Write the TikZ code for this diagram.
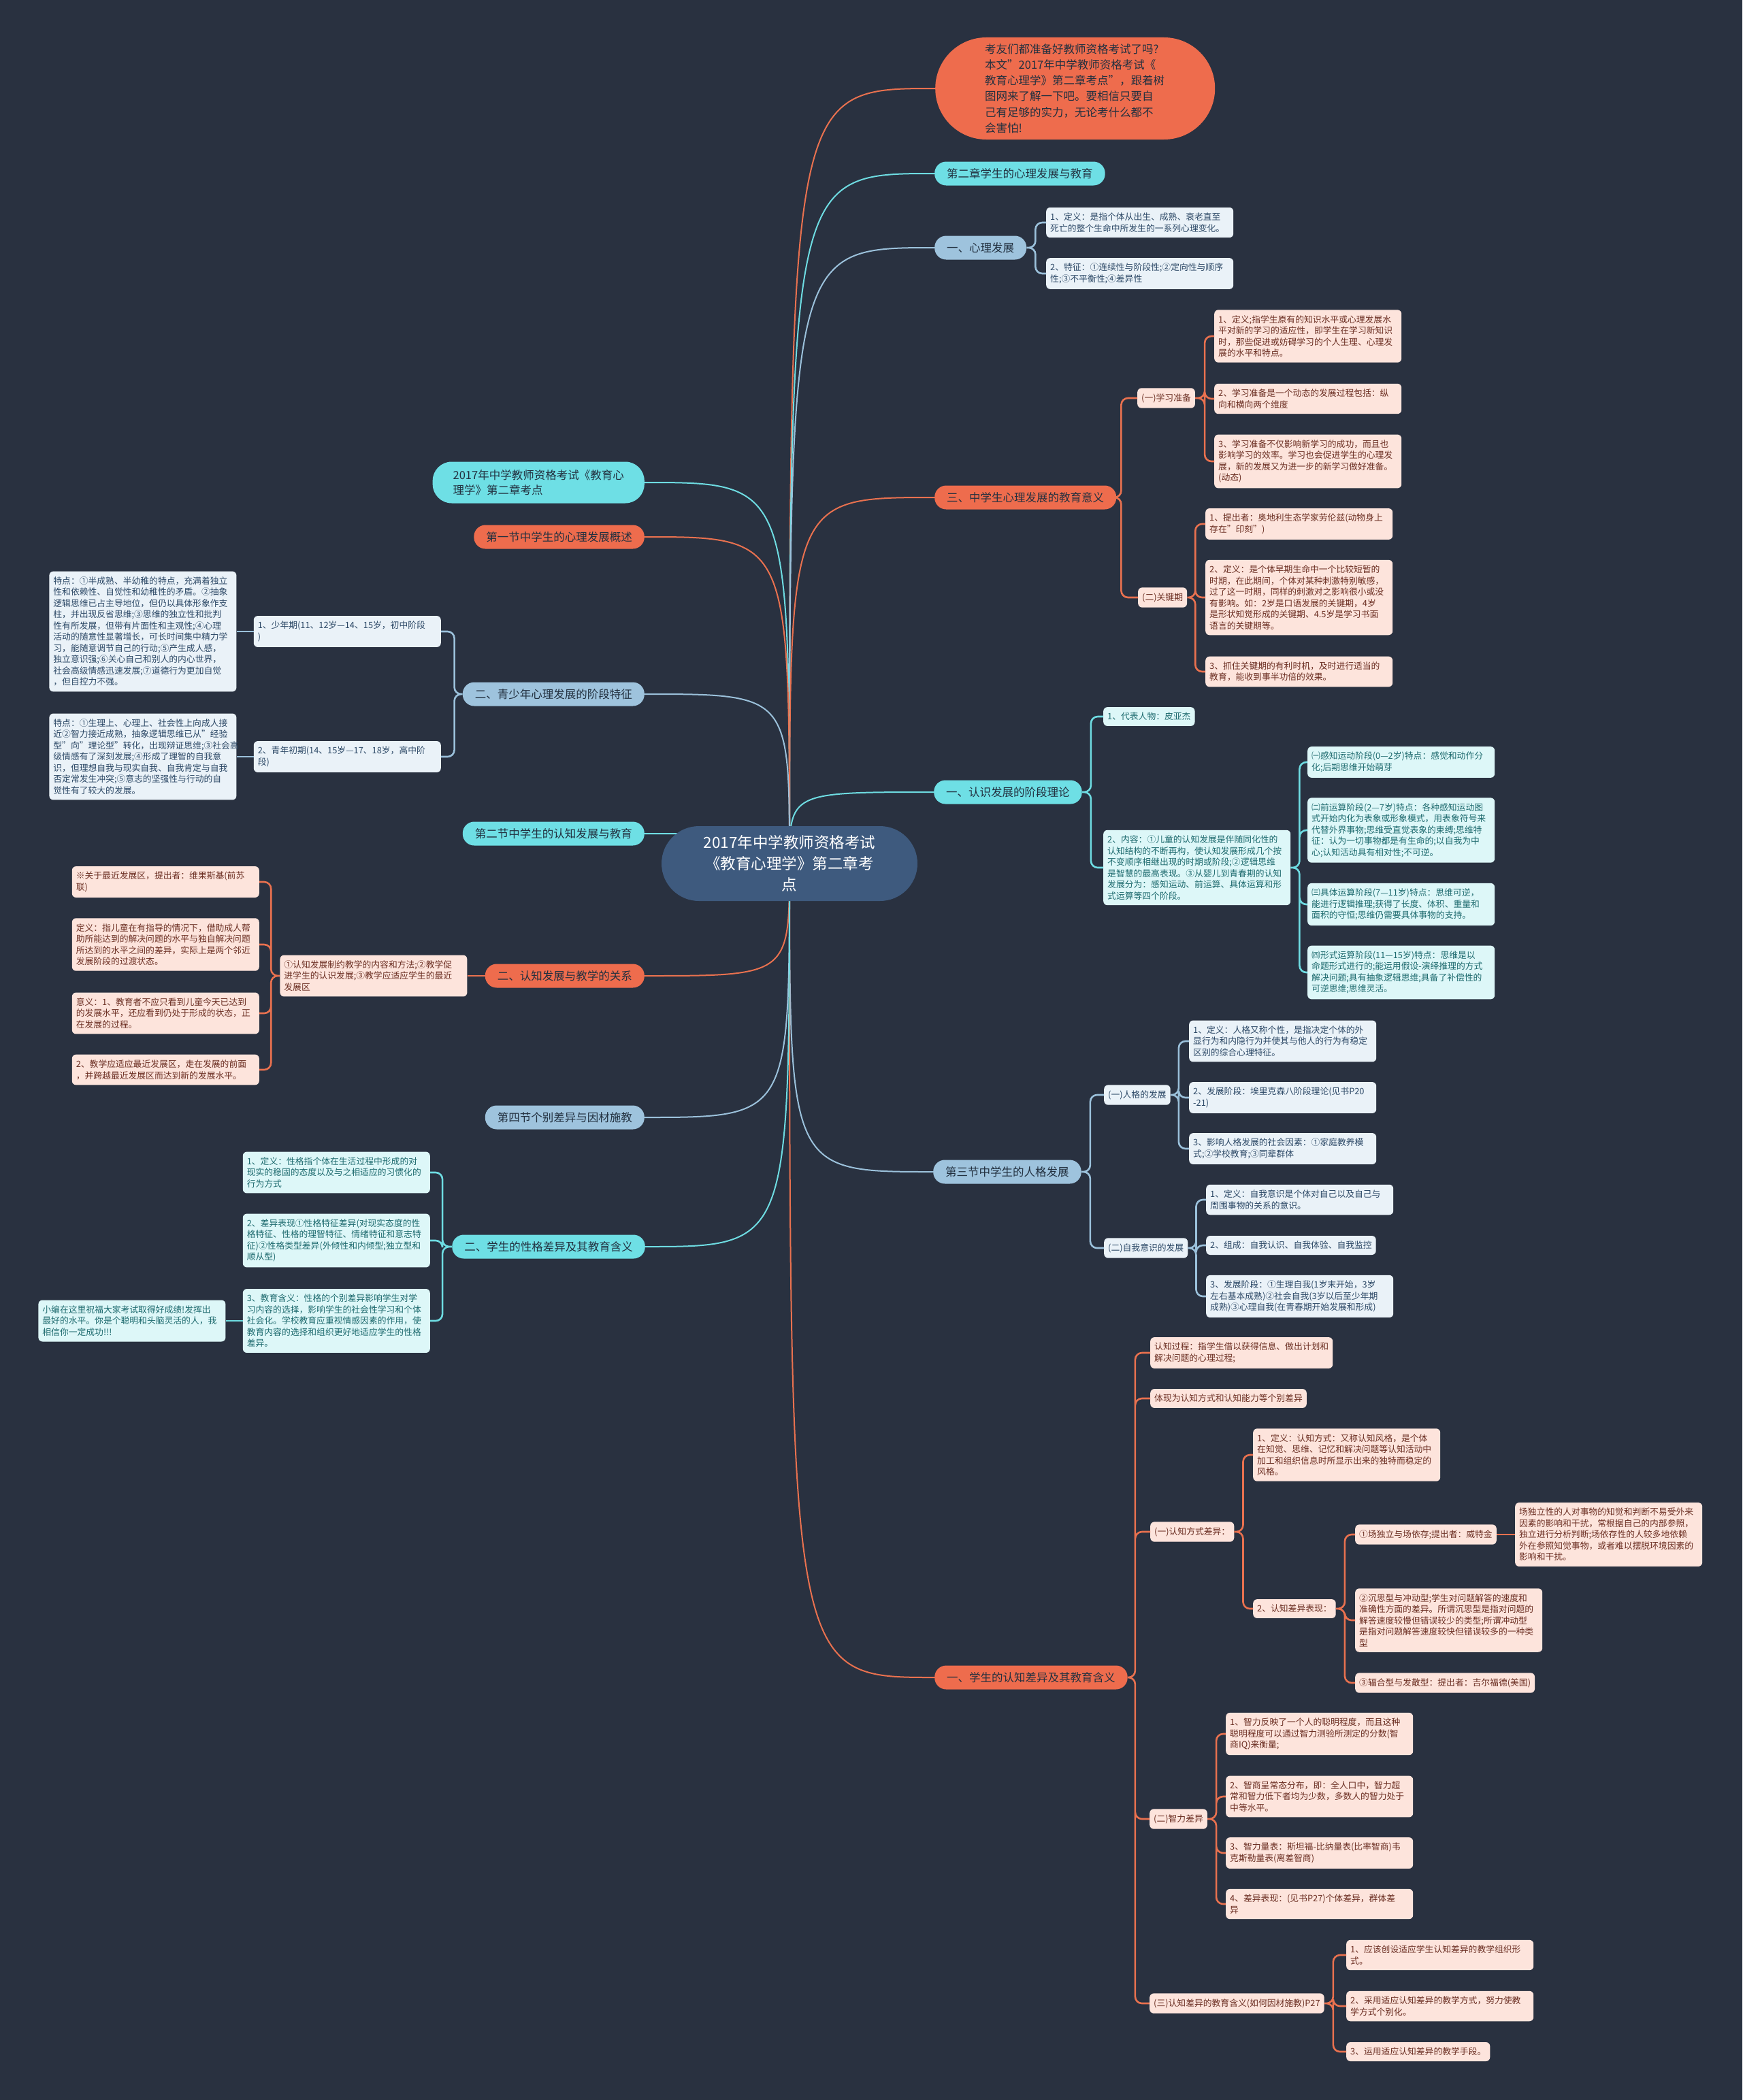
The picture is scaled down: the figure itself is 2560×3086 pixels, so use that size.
\documentclass[tikz,border=0pt]{standalone}
\usepackage{fontspec}
\setmainfont{Noto Sans CJK SC}
\usepackage{xcolor}
\usepackage{tikz}
\usetikzlibrary{positioning}

\definecolor{bgcol}{HTML}{293140}
\definecolor{ctrfill}{HTML}{3E5A7E}
\definecolor{orfill}{HTML}{EE6C4D}
\definecolor{cyfill}{HTML}{6EDFE5}
\definecolor{gyfill}{HTML}{9EC3DD}
\definecolor{orline}{HTML}{E9714F}
\definecolor{cyline}{HTML}{6EDCE2}
\definecolor{gyline}{HTML}{9BC1DB}
\definecolor{pkfill}{HTML}{FDE4DC}
\definecolor{pktext}{HTML}{6B2E22}
\definecolor{wtfill}{HTML}{EAF2F8}
\definecolor{wttext}{HTML}{2C4866}
\definecolor{cyleaf}{HTML}{DDF7F8}
\definecolor{cytext}{HTML}{1D6A6E}
\definecolor{brtext}{HTML}{22303F}

\pgfdeclarelayer{background}
\pgfsetlayers{background,main}

\begin{document}
\begin{tikzpicture}[
    x=1pt, y=-1pt,
    lf/.style={rounded corners=6pt, inner xsep=6pt, inner ysep=8pt, align=left, font=\fontsize{12.8}{16.5}\selectfont},
    tw/.style={text width=263pt},
    pk/.style={lf, fill=pkfill, text=pktext},
    wt/.style={lf, fill=wtfill, text=wttext},
    cy/.style={lf, fill=cyleaf, text=cytext},
    br/.style={rounded corners=17pt, minimum height=35pt, inner xsep=18pt, text=brtext, font=\fontsize{16.5}{22}\selectfont},
    bor/.style={br, fill=orfill},
    bcy/.style={br, fill=cyfill},
    bgy/.style={br, fill=gyfill},
    sub/.style={line width=2.6pt, rounded corners=10pt},
    lor/.style={sub, draw=orline},
    lcy/.style={sub, draw=cyline},
    lgy/.style={sub, draw=gyline},
    mor/.style={line width=2pt, draw=orline},
    mcy/.style={line width=2pt, draw=cyline},
    mgy/.style={line width=2pt, draw=gyline},
    elbow/.style={to path={-- ++(#1,0) |- (\tikztotarget)}}
  ]
  \useasboundingbox (0,0) rectangle (2560,3086);

  % centre
  \node[fill=ctrfill, text=white, rounded corners=55pt, minimum width=376pt, minimum height=110pt,
    align=center, font=\fontsize{22.5}{31}\selectfont] (ctr) at (1160,1269)
    {2017年中学教师资格考试\\《教育心理学》第二章考\\点};

  % right side
  \node[fill=orfill, text=brtext, rounded corners=75pt, minimum width=411pt, minimum height=150pt,
    text width=265pt, align=left, font=\fontsize{16.5}{23.3}\selectfont, anchor=west] (intro) at (1374,130)
    {考友们都准备好教师资格考试了吗?\\本文"2017年中学教师资格考试《\\教育心理学》第二章考点"，跟着树\\图网来了解一下吧。要相信只要自\\己有足够的实力，无论考什么都不\\会害怕!};
  \node[bcy, anchor=west] (ch2) at (1373,255) {第二章学生的心理发展与教育};

  \node[bgy, anchor=west] (psy) at (1373,364) {一、心理发展};
  \node[wt, tw, anchor=west] (psy1) at (1537,327) {1、定义：是指个体从出生、成熟、衰老直至\\死亡的整个生命中所发生的一系列心理变化。};
  \node[wt, tw, anchor=west] (psy2) at (1537,402) {2、特征：①连续性与阶段性;②定向性与顺序\\性;③不平衡性;④差异性};

  \node[bor, anchor=west] (edu) at (1373,731) {三、中学生心理发展的教育意义};
  \node[pk, anchor=west] (prep) at (1671,585) {(一)学习准备};
  \node[pk, tw, anchor=west] (prep1) at (1784,494) {1、定义;指学生原有的知识水平或心理发展水\\平对新的学习的适应性，即学生在学习新知识\\时，那些促进或妨碍学习的个人生理、心理发\\展的水平和特点。};
  \node[pk, tw, anchor=west] (prep2) at (1784,586) {2、学习准备是一个动态的发展过程包括：纵\\向和横向两个维度};
  \node[pk, tw, anchor=west] (prep3) at (1784,678) {3、学习准备不仅影响新学习的成功，而且也\\影响学习的效率。学习也会促进学生的心理发\\展，新的发展又为进一步的新学习做好准备。\\(动态)};
  \node[pk, anchor=west] (crit) at (1672,878) {(二)关键期};
  \node[pk, tw, anchor=west] (crit1) at (1771,770) {1、提出者：奥地利生态学家劳伦兹(动物身上\\存在"印刻")};
  \node[pk, tw, anchor=west] (crit2) at (1771,878) {2、定义：是个体早期生命中一个比较短暂的\\时期，在此期间，个体对某种刺激特别敏感，\\过了这一时期，同样的刺激对之影响很小或没\\有影响。如：2岁是口语发展的关键期，4岁\\是形状知觉形成的关键期、4.5岁是学习书面\\语言的关键期等。};
  \node[pk, tw, anchor=west] (crit3) at (1771,987) {3、抓住关键期的有利时机，及时进行适当的\\教育，能收到事半功倍的效果。};

  \node[bcy, anchor=west] (cogth) at (1372,1164) {一、认识发展的阶段理论};
  \node[cy, anchor=west] (pia1) at (1621,1053) {1、代表人物：皮亚杰};
  \node[cy, tw, anchor=west] (pia2) at (1621,1275) {2、内容：①儿童的认知发展是伴随同化性的\\认知结构的不断再构，使认知发展形成几个按\\不变顺序相继出现的时期或阶段;②逻辑思维\\是智慧的最高表现。③从婴儿到青春期的认知\\发展分为：感知运动、前运算、具体运算和形\\式运算等四个阶段。};
  \node[cy, tw, anchor=west] (stg1) at (1921,1120) {㈠感知运动阶段(0—2岁)特点：感觉和动作分\\化;后期思维开始萌芽};
  \node[cy, tw, anchor=west] (stg2) at (1921,1220) {㈡前运算阶段(2—7岁)特点：各种感知运动图\\式开始内化为表象或形象模式，用表象符号来\\代替外界事物;思维受直觉表象的束缚;思维特\\征：认为一切事物都是有生命的;以自我为中\\心;认知活动具有相对性;不可逆。};
  \node[cy, tw, anchor=west] (stg3) at (1921,1329) {㈢具体运算阶段(7—11岁)特点：思维可逆，\\能进行逻辑推理;获得了长度、体积、重量和\\面积的守恒;思维仍需要具体事物的支持。};
  \node[cy, tw, anchor=west] (stg4) at (1921,1429) {㈣形式运算阶段(11—15岁)特点：思维是以\\命题形式进行的;能运用假设-演绎推理的方式\\解决问题;具有抽象逻辑思维;具备了补偿性的\\可逆思维;思维灵活。};

  \node[bgy, anchor=west] (pers) at (1371,1722) {第三节中学生的人格发展};
  \node[wt, anchor=west] (pdev) at (1622,1609) {(一)人格的发展};
  \node[wt, tw, anchor=west] (pdev1) at (1747,1530) {1、定义：人格又称个性，是指决定个体的外\\显行为和内隐行为并使其与他人的行为有稳定\\区别的综合心理特征。};
  \node[wt, tw, anchor=west] (pdev2) at (1747,1613) {2、发展阶段：埃里克森八阶段理论(见书P20\\-21)};
  \node[wt, tw, anchor=west] (pdev3) at (1747,1688) {3、影响人格发展的社会因素：①家庭教养模\\式;②学校教育;③同辈群体};
  \node[wt, anchor=west] (sdev) at (1622,1834) {(二)自我意识的发展};
  \node[wt, tw, anchor=west] (sdev1) at (1772,1763) {1、定义：自我意识是个体对自己以及自己与\\周围事物的关系的意识。};
  \node[wt, anchor=west] (sdev2) at (1772,1830) {2、组成：自我认识、自我体验、自我监控};
  \node[wt, tw, anchor=west] (sdev3) at (1772,1905) {3、发展阶段：①生理自我(1岁末开始，3岁\\左右基本成熟)②社会自我(3岁以后至少年期\\成熟)③心理自我(在青春期开始发展和形成)};

  \node[bor, anchor=west] (diff) at (1373,2465) {一、学生的认知差异及其教育含义};
  \node[pk, anchor=west] (cproc) at (1690,1988) {认知过程：指学生借以获得信息、做出计划和\\解决问题的心理过程;};
  \node[pk, anchor=west] (cshow) at (1690,2055) {体现为认知方式和认知能力等个别差异};
  \node[pk, anchor=west] (cstyle) at (1690,2251) {(一)认知方式差异：};
  \node[pk, tw, anchor=west] (cs1) at (1841,2138) {1、定义：认知方式：又称认知风格，是个体\\在知觉、思维、记忆和解决问题等认知活动中\\加工和组织信息时所显示出来的独特而稳定的\\风格。};
  \node[pk, anchor=west] (cs2) at (1841,2364) {2、认知差异表现：};
  \node[pk, anchor=west] (fi) at (1991,2255) {①场独立与场依存;提出者：威特金};
  \node[pk, tw, right=27pt of fi] (finote) {场独立性的人对事物的知觉和判断不易受外来\\因素的影响和干扰，常根据自己的内部参照，\\独立进行分析判断;场依存性的人较多地依赖\\外在参照知觉事物，或者难以摆脱环境因素的\\影响和干扰。};
  \node[pk, tw, anchor=west] (rf) at (1991,2381) {②沉思型与冲动型;学生对问题解答的速度和\\准确性方面的差异。所谓沉思型是指对问题的\\解答速度较慢但错误较少的类型;所谓冲动型\\是指对问题解答速度较快但错误较多的一种类\\型};
  \node[pk, anchor=west] (cd) at (1991,2473) {③辐合型与发散型：提出者：吉尔福德(美国)};
  \node[pk, anchor=west] (iq) at (1689,2673) {(二)智力差异};
  \node[pk, tw, anchor=west] (iq1) at (1801,2548) {1、智力反映了一个人的聪明程度，而且这种\\聪明程度可以通过智力测验所测定的分数(智\\商IQ)来衡量;};
  \node[pk, tw, anchor=west] (iq2) at (1801,2640) {2、智商呈常态分布，即：全人口中，智力超\\常和智力低下者均为少数，多数人的智力处于\\中等水平。};
  \node[pk, tw, anchor=west] (iq3) at (1801,2723) {3、智力量表：斯坦福-比纳量表(比率智商)韦\\克斯勒量表(离差智商)};
  \node[pk, tw, anchor=west] (iq4) at (1801,2798) {4、差异表现：(见书P27)个体差异，群体差\\异};
  \node[pk, anchor=west] (teach) at (1689,2944) {(三)认知差异的教育含义(如何因材施教)P27};
  \node[pk, tw, anchor=west] (teach1) at (1978,2873) {1、应该创设适应学生认知差异的教学组织形\\式。};
  \node[pk, tw, anchor=west] (teach2) at (1978,2948) {2、采用适应认知差异的教学方式，努力使教\\学方式个别化。};
  \node[pk, anchor=west] (teach3) at (1978,3015) {3、运用适应认知差异的教学手段。};

  % left side
  \node[bcy, rounded corners=28pt, minimum height=61pt, inner xsep=30pt, align=left, anchor=east] (title) at (947,709) {2017年中学教师资格考试《教育心\\理学》第二章考点};
  \node[bor, anchor=east] (sec1) at (947,789) {第一节中学生的心理发展概述};
  \node[bgy, anchor=east] (youth) at (947,1020) {二、青少年心理发展的阶段特征};
  \node[wt, tw, anchor=east] (early) at (648,928) {1、少年期(11、12岁—14、15岁，初中阶段\\)};
  \node[wt, tw, left=25pt of early] (earlynote) {特点：①半成熟、半幼稚的特点，充满着独立\\性和依赖性、自觉性和幼稚性的矛盾。②抽象\\逻辑思维已占主导地位，但仍以具体形象作支\\柱，并出现反省思维;③思维的独立性和批判\\性有所发展，但带有片面性和主观性;④心理\\活动的随意性显著增长，可长时间集中精力学\\习，能随意调节自己的行动;⑤产生成人感，\\独立意识强;⑥关心自己和别人的内心世界，\\社会高级情感迅速发展;⑦道德行为更加自觉\\，但自控力不强。};
  \node[wt, tw, anchor=east] (late) at (648,1112) {2、青年初期(14、15岁—17、18岁，高中阶\\段)};
  \node[wt, tw, left=25pt of late] (latenote) {特点：①生理上、心理上、社会性上向成人接\\近②智力接近成熟，抽象逻辑思维已从"经验\\型"向"理论型"转化，出现辩证思维;③社会高\\级情感有了深刻发展;④形成了理智的自我意\\识，但理想自我与现实自我、自我肯定与自我\\否定常发生冲突;⑤意志的坚强性与行动的自\\觉性有了较大的发展。};

  \node[bcy, anchor=east] (sec2) at (947,1225) {第二节中学生的认知发展与教育};
  \node[bor, anchor=east] (rel) at (947,1434) {二、认知发展与教学的关系};
  \node[pk, tw, left=26pt of rel] (relmain) {①认知发展制约教学的内容和方法;②教学促\\进学生的认识发展;③教学应适应学生的最近\\发展区};
  \node[pk, tw, anchor=east] (zpd1) at (381,1296) {※关于最近发展区，提出者：维果斯基(前苏\\联)};
  \node[pk, tw, anchor=east] (zpd2) at (381,1388) {定义：指儿童在有指导的情况下，借助成人帮\\助所能达到的解决问题的水平与独自解决问题\\所达到的水平之间的差异，实际上是两个邻近\\发展阶段的过渡状态。};
  \node[pk, tw, anchor=east] (zpd3) at (381,1489) {意义：1、教育者不应只看到儿童今天已达到\\的发展水平，还应看到仍处于形成的状态，正\\在发展的过程。};
  \node[pk, tw, anchor=east] (zpd4) at (381,1572) {2、教学应适应最近发展区，走在发展的前面\\，并跨越最近发展区而达到新的发展水平。};

  \node[bgy, anchor=east] (sec4) at (947,1642) {第四节个别差异与因材施教};
  \node[bcy, anchor=east] (chr) at (948,1832) {二、学生的性格差异及其教育含义};
  \node[cy, tw, anchor=east] (chr1) at (632,1723) {1、定义：性格指个体在生活过程中形成的对\\现实的稳固的态度以及与之相适应的习惯化的\\行为方式};
  \node[cy, tw, anchor=east] (chr2) at (632,1823) {2、差异表现①性格特征差异(对现实态度的性\\格特征、性格的理智特征、情绪特征和意志特\\征)②性格类型差异(外倾性和内倾型;独立型和\\顺从型)};
  \node[cy, tw, anchor=east] (chr3) at (632,1941) {3、教育含义：性格的个别差异影响学生对学\\习内容的选择，影响学生的社会性学习和个体\\社会化。学校教育应重视情感因素的作用，使\\教育内容的选择和组织更好地适应学生的性格\\差异。};
  \node[cy, tw, left=25pt of chr3] (wish) {小编在这里祝福大家考试取得好成绩!发挥出\\最好的水平。你是个聪明和头脑灵活的人，我\\相信你一定成功!!!};

  % branch brackets
  \draw[lgy] (psy.east) to[elbow=13] (psy1.west) (psy.east) to[elbow=13] (psy2.west);
  \draw[lor] (edu.east) to[elbow=7] (prep.west) (edu.east) to[elbow=7] (crit.west);
  \draw[lor] (prep.east) to[elbow=14] (prep1.west) (prep.east) to[elbow=14] (prep2.west) (prep.east) to[elbow=14] (prep3.west);
  \draw[lor] (crit.east) to[elbow=12] (crit1.west) (crit.east) to[elbow=12] (crit2.west) (crit.east) to[elbow=12] (crit3.west);
  \draw[lcy] (cogth.east) to[elbow=13] (pia1.west) (cogth.east) to[elbow=13] (pia2.west);
  \draw[lcy] (pia2.east) to[elbow=13] (stg1.west) (pia2.east) to[elbow=13] (stg2.west) (pia2.east) to[elbow=13] (stg3.west) (pia2.east) to[elbow=13] (stg4.west);
  \draw[lgy] (pers.east) to[elbow=13] (pdev.west) (pers.east) to[elbow=13] (sdev.west);
  \draw[lgy] (pdev.east) to[elbow=12] (pdev1.west) (pdev.east) to[elbow=12] (pdev2.west) (pdev.east) to[elbow=12] (pdev3.west);
  \draw[lgy] (sdev.east) to[elbow=12] (sdev1.west) (sdev.east) to[elbow=12] (sdev2.west) (sdev.east) to[elbow=12] (sdev3.west);
  \draw[lor] (diff.east) to[elbow=11] (cproc.west) (diff.east) to[elbow=11] (cshow.west) (diff.east) to[elbow=11] (cstyle.west)
    (diff.east) to[elbow=11] (iq.west) (diff.east) to[elbow=11] (teach.west);
  \draw[lor] (cstyle.east) to[elbow=13] (cs1.west) (cstyle.east) to[elbow=13] (cs2.west);
  \draw[lor] (cs2.east) to[elbow=13] (fi.west) (cs2.east) to[elbow=13] (rf.west) (cs2.east) to[elbow=13] (cd.west);
  \draw[lor] (fi) -- (finote);
  \draw[lor] (iq.east) to[elbow=13] (iq1.west) (iq.east) to[elbow=13] (iq2.west) (iq.east) to[elbow=13] (iq3.west) (iq.east) to[elbow=13] (iq4.west);
  \draw[lor] (teach.east) to[elbow=13] (teach1.west) (teach.east) to[elbow=13] (teach2.west) (teach.east) to[elbow=13] (teach3.west);

  \draw[lgy] (youth.west) to[elbow=-12] (early.east) (youth.west) to[elbow=-12] (late.east);
  \draw[lgy] (early) -- (earlynote);
  \draw[lgy] (late) -- (latenote);
  \draw[lor] (rel) -- (relmain);
  \draw[lor] (relmain.west) to[elbow=-13] (zpd1.east) (relmain.west) to[elbow=-13] (zpd2.east)
    (relmain.west) to[elbow=-13] (zpd3.east) (relmain.west) to[elbow=-13] (zpd4.east);
  \draw[lcy] (chr.west) to[elbow=-14] (chr1.east) (chr.west) to[elbow=-14] (chr2.east) (chr.west) to[elbow=-14] (chr3.east);
  \draw[lcy] (chr3) -- (wish);

  % background and main branches
  \begin{pgfonlayer}{background}
    \fill[bgcol] (0,0) rectangle (2560,3086);
    \draw[mor] (ctr.center) .. controls (ctr.center |- intro.west) .. (intro.west);
    \draw[mcy] (ctr.center) .. controls (ctr.center |- ch2.west) .. (ch2.west);
    \draw[mgy] (ctr.center) .. controls (ctr.center |- psy.west) .. (psy.west);
    \draw[mor] (ctr.center) .. controls (ctr.center |- edu.west) .. (edu.west);
    \draw[mcy] (ctr.center) .. controls (ctr.center |- cogth.west) .. (cogth.west);
    \draw[mgy] (ctr.center) .. controls (ctr.center |- pers.west) .. (pers.west);
    \draw[mor] (ctr.center) .. controls (ctr.center |- diff.west) .. (diff.west);
    \draw[mcy] (ctr.center) .. controls (ctr.center |- title.east) .. (title.east);
    \draw[mor] (ctr.center) .. controls (ctr.center |- sec1.east) .. (sec1.east);
    \draw[mgy] (ctr.center) .. controls (ctr.center |- youth.east) .. (youth.east);
    \draw[mcy] (ctr.center) .. controls (ctr.center |- sec2.east) .. (sec2.east);
    \draw[mor] (ctr.center) .. controls (ctr.center |- rel.east) .. (rel.east);
    \draw[mgy] (ctr.center) .. controls (ctr.center |- sec4.east) .. (sec4.east);
    \draw[mcy] (ctr.center) .. controls (ctr.center |- chr.east) .. (chr.east);
  \end{pgfonlayer}
\end{tikzpicture}
\end{document}
